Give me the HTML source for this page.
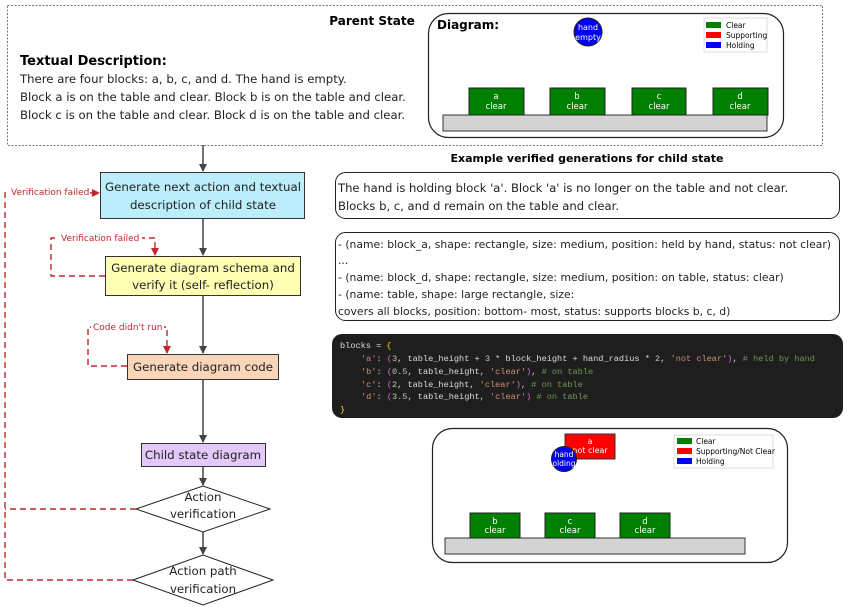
<!DOCTYPE html>
<html><head><meta charset="utf-8"><style>
body{margin:0;background:#fff;}
svg{display:block;font-family:"Liberation Sans","DejaVu Sans",sans-serif;}
.t{font-family:"DejaVu Sans",sans-serif;}
</style></head><body>
<svg width="847" height="607" viewBox="0 0 847 607" xmlns="http://www.w3.org/2000/svg">
<defs>
<marker id="ab" markerWidth="8" markerHeight="8" refX="7" refY="4" orient="auto" markerUnits="userSpaceOnUse"><path d="M0,0 L8,4 L0,8z" fill="#444"/></marker>
<marker id="ar" markerWidth="8" markerHeight="8" refX="7" refY="4" orient="auto" markerUnits="userSpaceOnUse"><path d="M0,0 L8,4 L0,8z" fill="#c0282d"/></marker>
</defs>
<rect x="7.5" y="5.5" width="815" height="140" fill="none" stroke="#777" stroke-dasharray="2,1.5"/>
<text x="372" y="25" font-size="12" font-weight="bold" text-anchor="middle" class="t">Parent State</text>
<text x="20" y="65" font-size="13" font-weight="bold" class="t">Textual Description:</text>
<g font-size="11.7" class="t" fill="#222">
<text x="20" y="83">There are four blocks: a, b, c, and d. The hand is empty.</text>
<text x="20" y="101">Block a is on the table and clear. Block b is on the table and clear.</text>
<text x="20" y="119">Block c is on the table and clear. Block d is on the table and clear.</text>
</g>
<rect x="428.5" y="13.5" width="355" height="124" rx="20" fill="#fff" stroke="#222" stroke-width="1.2"/>
<text x="437" y="29" font-size="12" font-weight="bold" class="t">Diagram:</text>
<circle cx="588" cy="32" r="14" fill="#0000f0" stroke="#222"/>
<text x="588" y="30" font-size="8" fill="#fff" text-anchor="middle" class="t">hand</text>
<text x="588" y="40" font-size="8" fill="#fff" text-anchor="middle" class="t">empty</text>
<rect x="704" y="18" width="63" height="34" fill="#fff" stroke="#ddd"/>
<rect x="706" y="22" width="15" height="6" fill="#008000"/><text x="726" y="28" font-size="7.5" class="t">Clear</text>
<rect x="706" y="32" width="15" height="6" fill="#f00"/><text x="726" y="38" font-size="7.5" class="t">Supporting</text>
<rect x="706" y="42" width="15" height="6" fill="#00f"/><text x="726" y="48" font-size="7.5" class="t">Holding</text>
<rect x="443" y="115" width="324" height="16" fill="#d3d3d3" stroke="#333"/>
<g font-size="8.5" fill="#fff" text-anchor="middle" class="t">
<rect x="469" y="88" width="55" height="27" fill="#008000" stroke="#222"/><text x="496" y="99">a</text><text x="496" y="109">clear</text>
<rect x="550" y="88" width="55" height="27" fill="#008000" stroke="#222"/><text x="577" y="99">b</text><text x="577" y="109">clear</text>
<rect x="632" y="88" width="54" height="27" fill="#008000" stroke="#222"/><text x="659" y="99">c</text><text x="659" y="109">clear</text>
<rect x="713" y="88" width="55" height="27" fill="#008000" stroke="#222"/><text x="740" y="99">d</text><text x="740" y="109">clear</text>
</g>
<g stroke="#444" stroke-width="1.5" fill="none">
<line x1="203" y1="145" x2="203" y2="171" marker-end="url(#ab)"/>
<line x1="203" y1="218" x2="203" y2="255" marker-end="url(#ab)"/>
<line x1="203" y1="295" x2="203" y2="353" marker-end="url(#ab)"/>
<line x1="203" y1="379" x2="203" y2="442" marker-end="url(#ab)"/>
<line x1="203" y1="466" x2="203" y2="485" marker-end="url(#ab)"/>
<line x1="203" y1="532" x2="203" y2="554" marker-end="url(#ab)"/>
</g>
<g font-size="11.8" class="t" fill="#222" text-anchor="middle">
<rect x="100.5" y="172.5" width="204" height="46" fill="#bbeefa" stroke="#333"/>
<text x="203" y="191">Generate next action and textual</text>
<text x="203" y="209">description of child state</text>
<rect x="105.5" y="256.5" width="195" height="39" fill="#ffffb3" stroke="#333"/>
<text x="203" y="272">Generate diagram schema and</text>
<text x="203" y="289">verify it (self- reflection)</text>
<rect x="127.5" y="354.5" width="151" height="25" fill="#f9d5b9" stroke="#333"/>
<text x="203" y="371">Generate diagram code</text>
<rect x="141.5" y="443.5" width="124" height="23" fill="#e3c9fa" stroke="#333"/>
<text x="203" y="459">Child state diagram</text>
<polygon points="136,509 203,486 270,509 203,532" fill="#fff" stroke="#222"/>
<text x="203" y="501">Action</text><text x="203" y="518">verification</text>
<polygon points="133,580 203,555 273,580 203,605" fill="#fff" stroke="#222"/>
<text x="203" y="575">Action path</text><text x="203" y="593">verification</text>
</g>
<g stroke="#c0282d" stroke-width="1.4" fill="none" stroke-dasharray="6,4">
<polyline points="136,509 5,509"/>
<polyline points="133,580 5,580 5,193 99,193" marker-end="url(#ar)"/>
<polyline points="105,276 51,276 51,238 155,238 155,255" marker-end="url(#ar)"/>
<polyline points="127,366 88,366 88,327 167,327 167,353" marker-end="url(#ar)"/>
</g>
<g font-size="9" fill="#c0282d" class="t">
<rect x="10" y="185" width="80" height="12" fill="#fff"/><text x="11" y="195">Verification failed</text>
<rect x="59" y="231" width="83" height="12" fill="#fff"/><text x="61" y="241">Verification failed</text>
<rect x="91" y="320" width="73" height="12" fill="#fff"/><text x="93" y="330">Code didn't run</text>
</g>
<text x="587" y="162" font-size="11" font-weight="bold" text-anchor="middle" class="t">Example verified generations for child state</text>
<rect x="335.5" y="172.5" width="504" height="46" rx="10" fill="#fff" stroke="#222"/>
<g font-size="11.6" class="t" fill="#222">
<text x="338" y="192">The hand is holding block 'a'. Block 'a' is no longer on the table and not clear.</text>
<text x="338" y="210">Blocks b, c, and d remain on the table and clear.</text>
</g>
<rect x="335.5" y="232.5" width="504" height="88" rx="10" fill="#fff" stroke="#222"/>
<g font-size="10.8" class="t" fill="#222">
<text x="338" y="248">- (name: block_a, shape: rectangle, size: medium, position: held by hand, status: not clear)</text>
<text x="338" y="264">...</text>
<text x="338" y="281">- (name: block_d, shape: rectangle, size: medium, position: on table, status: clear)</text>
<text x="338" y="298">- (name: table, shape: large rectangle, size:</text>
<text x="338" y="315">covers all blocks, position: bottom- most, status: supports blocks b, c, d)</text>
</g>
<rect x="332" y="334" width="511" height="84" rx="10" fill="#1e1e1e"/>
<g font-size="8.6" font-family="'Liberation Mono','DejaVu Sans Mono',monospace" fill="#ddd">
<text x="340" y="348">blocks = <tspan fill="#ffd700">{</tspan></text>
<text x="361" y="361"><tspan fill="#ce9178">'a'</tspan>: <tspan fill="#da70d6">(</tspan><tspan fill="#b5cea8">3</tspan>, table_height + <tspan fill="#b5cea8">3</tspan> * block_height + hand_radius * <tspan fill="#b5cea8">2</tspan>, <tspan fill="#ce9178">'not clear'</tspan><tspan fill="#da70d6">)</tspan>,  <tspan fill="#6a9955"># held by hand</tspan></text>
<text x="361" y="374"><tspan fill="#ce9178">'b'</tspan>: <tspan fill="#da70d6">(</tspan><tspan fill="#b5cea8">0.5</tspan>, table_height, <tspan fill="#ce9178">'clear'</tspan><tspan fill="#da70d6">)</tspan>,  <tspan fill="#6a9955"># on table</tspan></text>
<text x="361" y="387"><tspan fill="#ce9178">'c'</tspan>: <tspan fill="#da70d6">(</tspan><tspan fill="#b5cea8">2</tspan>, table_height, <tspan fill="#ce9178">'clear'</tspan><tspan fill="#da70d6">)</tspan>,  <tspan fill="#6a9955"># on table</tspan></text>
<text x="361" y="399"><tspan fill="#ce9178">'d'</tspan>: <tspan fill="#da70d6">(</tspan><tspan fill="#b5cea8">3.5</tspan>, table_height, <tspan fill="#ce9178">'clear'</tspan><tspan fill="#da70d6">)</tspan>  <tspan fill="#6a9955"># on table</tspan></text>
<text x="340" y="412" fill="#ffd700">}</text>
</g>
<rect x="432.5" y="428.5" width="355" height="134" rx="20" fill="#fff" stroke="#222" stroke-width="1.2"/>
<rect x="565" y="434" width="50" height="25" fill="#f00" stroke="#333"/>
<text x="590" y="444" font-size="8" fill="#fff" text-anchor="middle" class="t">a</text>
<text x="590" y="453" font-size="8" fill="#fff" text-anchor="middle" class="t">not clear</text>
<circle cx="564" cy="459" r="12.5" fill="#0000f0" stroke="#222"/>
<text x="564" y="457" font-size="7.5" fill="#fff" text-anchor="middle" class="t">hand</text>
<text x="564" y="466" font-size="7.5" fill="#fff" text-anchor="middle" class="t">olding</text>
<rect x="674" y="435" width="99" height="33" fill="#fff" stroke="#ddd"/>
<rect x="677" y="438" width="15" height="6" fill="#008000"/><text x="696" y="444" font-size="7.5" class="t">Clear</text>
<rect x="677" y="448" width="15" height="6" fill="#f00"/><text x="696" y="454" font-size="7.5" class="t">Supporting/Not Clear</text>
<rect x="677" y="458" width="15" height="6" fill="#00f"/><text x="696" y="464" font-size="7.5" class="t">Holding</text>
<rect x="445" y="538" width="300" height="16" fill="#d3d3d3" stroke="#333"/>
<g font-size="8.5" fill="#fff" text-anchor="middle" class="t">
<rect x="470" y="513" width="50" height="25" fill="#008000" stroke="#222"/><text x="495" y="524">b</text><text x="495" y="533">clear</text>
<rect x="545" y="513" width="50" height="25" fill="#008000" stroke="#222"/><text x="570" y="524">c</text><text x="570" y="533">clear</text>
<rect x="620" y="513" width="50" height="25" fill="#008000" stroke="#222"/><text x="645" y="524">d</text><text x="645" y="533">clear</text>
</g>
</svg>
</body></html>
